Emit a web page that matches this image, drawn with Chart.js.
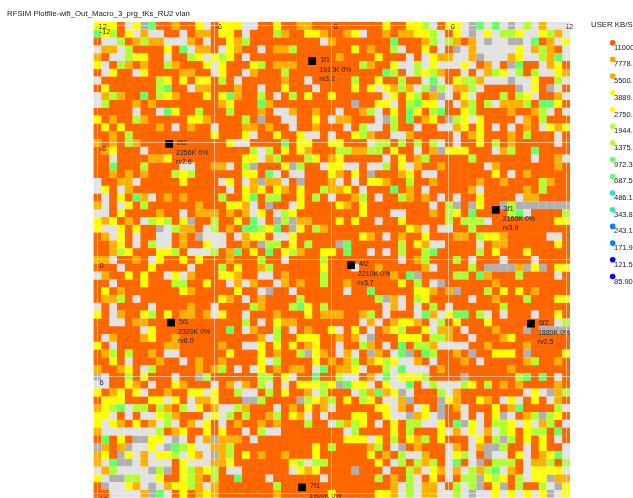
<!DOCTYPE html>
<html>
<head>
<meta charset="utf-8">
<style>
  html, body { margin: 0; padding: 0; background: #fff; }
  canvas { display: block; filter: blur(0.45px); }
</style>
<script src="https://cdn.jsdelivr.net/npm/chart.js@4"></script>
</head>
<body>
<canvas id="plot" width="633" height="498"></canvas>
<script>
const titleText = 'RFSIM Plotfile-wifi_Out_Macro_3_prg_tKs_RU2 vlan'
const legendTitle = 'USER KB/S'
const legendValues = ['11000.0','7778.2','5500.0','3889.1','2750.0','1944.5','1375.0','972.30','687.50','486.10','343.80','243.10','171.90','121.50','85.90']
const legendColors = ['#ff5a00','#ffa500','#ffa500','#ffff00','#ffff00','#b0ff33','#b0ff33','#66ff66','#66ff66','#33e0d0','#33e0d0','#0a80ff','#0a80ff','#0000ff','#0000ff']

const tickValues = [-12, -6, 0, 6, 12]
const cellStep = 0.4
const firstCell = -12

// cell classes seen on the map, O is the background class so it is not listed in the rows
const cellClasses = ['O', 'A', 'Y', 'L', 'G', 'W', 'S']
const classValues = [11000, 5500, 2750, 1375, 687.5, 0, -1]
const classColors = ['#ff6600', '#ffb000', '#ffff00', '#b0ff33', '#66ff66', '#e2e2e2', '#b0b0b0']

// one string per row from the top, "col" or "from-to" followed by the class
const cellRows = [
  '0-2Y 4W 5Y 6S 7G 10A 13Y 14W 16-18Y 19-20W 23Y 26-27A 37Y 40-41Y 42L 43W 45-46Y 47W 48S 49G 50W 51G 52W 53S 54W 55L 56W 57A 58-60W',
  '0G 1Y 2L 4Y 5W 6A 7-8W 11W 13-14A 16-17Y 19W 23L 24A 27-28Y 29A 32A 33Y 34W 37A 39-40A 41-42Y 43L 44W 46Y 47W 48S 49W 50Y 51W 52-53L 54Y 55-56W 57Y 58L 59A 60W',
  '1-2W 3L 5A 6L 7-8A 9-11W 12A 14W 17Y 18A 19L 29W 30A 38G 42A 43L 44W 45L 46A 48A 49W 50S 51-52W 53-54S 55W 56G 58A 59W 60Y',
  '0W 1-2A 3W 4L 9Y 11G 12W 13-14A 16W 17Y 18A 21W 23-24A 25L 33Y 35A 38L 39W 42Y 44W 46S 47W 48A 49-53W 54Y 55W 56A 57L 58A 60W',
  '0A 2-3W 4L 5-6Y 9W 12L 13Y 14W 15Y 16L 17Y 19W 31A 36Y 40W 42W 43Y 44-45A 46-47W 48A 49S 50-52W 53A 54Y 55-56W 57L 58A 59G 60W',
  '0Y 1W 3L 4A 6A 9L 10A 14Y 15W 16Y 20Y 21L 23-25A 34L 35A 38Y 39-40W 41L 42W 43Y 44-46W 47Y 48W 50A 51W 53S 54G 57W 58A 59Y',
  '1W 2Y 5W 6Y 11-12A 15W 16Y 19W 20A 24L 37G 38L 40W 41L 42Y 43L 44A 47W 49W 50A 51L 52Y 53W 54L 56L 57-58W 59Y 60A',
  '0W 8L 9Y 11Y 13-14Y 16L 18W 24A 27W 33L 36Y 39L 42W 43G 44W 46Y 47-48L 49A 50-52W 53S 54-55W 56Y 59L 60W',
  '1Y 8L 9G 12W 13-14A 18A 21W 24Y 28W 33Y 35Y 36W 37Y 38A 39L 40A 41W 42L 43S 44L 45W 46-47A 48L 49W 54S 55W 56Y 58S 59W',
  '0W 1A 2L 3A 6G 8L 9Y 10A 14Y 16Y 17G 18A 21L 23W 25L 27Y 30Y 37W 38Y 40Y 41L 43A 44S 45W 47Y 48W 52L 54L 55Y 56W 59A 60W',
  '0W 1L 5A 7A 16A 17Y 21G 22A 33S 36-37Y 38W 40L 41G 42-43Y 44W 46W 47A 48L 50L 51W 52-54A 55L 57-58G 59Y',
  '5W 8W 9G 10Y 13L 17L 21A 23-24W 25A 28A 31W 34A 35L 36W 38Y 40G 41Y 43L 44G 47Y 48L 53A 56A 57L 58W 60W',
  '0Y 2A 5L 6A 12-13Y 14A 19L 21S 24-25W 28Y 30W 31-32A 36W 37S 38L 40G 42A 43Y 45S 46L 47Y 48W 49Y 54W 55A 57L',
  '1Y 3Y 8A 10W 12A 15W 19-20A 22A 25W 28A 32W 34L 35-36W 38L 41W 44-45W 46A 47Y 49Y 51W 53W 55A 57W 58Y 59A 60Y',
  '2A 4L 15Y 19Y 20W 23Y 26Y 27-28W 30W 33Y 34L 35A 38-39W 40A 46W 48A 49Y 53A 55L 59W',
  '0A 2A 4L 5A 17Y 18-19W 24G 26-27Y 30-31Y 35W 36-37L 39L 41L 43L 44W 46W 49Y 51L 53A 59W',
  '1A 2Y 6W 20L 21W 22L 24Y 26Y 27A 31-32L 33-34A 35-36L 38Y 41W 43A 44S 45-47Y 51W 52A 53L 56G',
  '2W 7-8A 9Y 19-20Y 21W 22A 23L 27L 28Y 30A 31Y 37W 39Y 41A 42L 48L 56W 59A 60W',
  '2G 6L 11-12W 15-16A 17W 19L 20S 24Y 25S 26L 29W 30-31Y 32-33W 35-36W 37L 39Y 40W 41A 44A 50W 51A 59A',
  '2A 4A 6A 10L 11Y 12L 19-20Y 22G 23W 25-26W 30Y 31A 33Y 35S 39A 40Y 42-43W 51Y 53W 55A',
  '0W 3-4A 5W 11Y 16W 17Y 19W 20A 21S 22-23A 24W 26S 30A 31W 33W 35-36Y 37A 40L 43A 49A 52A 57L 58A',
  '0W 1Y 3W 4A 17W 19Y 20A 21Y 23Y 24A 26Y 29L 30-31A 32Y 34W 38G 40A 42W 48A 49W 55A 57L',
  '1W 3Y 5G 6A 7W 9A 11A 16L 19Y 20G 22-23L 26Y 28L 30W 33A 34L 36W 39L 40A 42A 44W 46W 49Y 54W 55-56A',
  '0A 1W 3W 4Y 6L 13A 17-18Y 19A 20W 22S 25W 26Y 31Y 32A 34Y 43W 45L 46S 48S 49Y 52S 53L 54-60S',
  '0-1W 3Y 8A 11W 13-15A 17A 19A 20W 21Y 23W 24L 25Y 34Y 38-39W 43A 45L 46Y 48G 53L 54G 55W 60L',
  '0Y 1A 2Y 4A 6W 7L 8Y 9L 11Y 12S 15L 18Y 20G 21W 23S 24L 25S 26-27A 31Y 33Y 36W 39Y 45L 47-49L 50W 59-60Y',
  '0Y 1-2W 3Y 5Y 8S 9W 10L 11-12A 14W 15L 17A 19-20G 21L 22Y 23G 25S 26Y 28L 29A 40Y 41A 42W 44-45W 48L',
  '1A 2W 3Y 5W 8-9W 11A 13S 14-16W 18W 19A 20-21Y 23-24W 25Y 34Y 35A 37W 39A 42Y 46-47A 49L 50-51Y 52A 58-59W',
  '2A 3Y 5W 7L 8-9W 11A 14Y 15-16W 19A 21S 22-23L 25Y 27L 31S 32G 39L 41Y 42A 43-44W 49W 51-52A 59Y',
  '2A 3L 4Y 8-9Y 10L 12-14W 15L 17A 18G 20Y 22G 24Y 25L 26A 29-30Y 32G 35W 37W 39L 42L 43G 49L 51Y 55Y',
  '0-1A 2W 5A 7W 8Y 11Y 13Y 17A 21L 24W 29L 39W 41A 42L 46L 48W 52W 56W',
  '3W 7Y 12W 16L 18Y 21A 22L 29Y 33W 36A 42A 43W 48L 50-53S 54A 55S 56Y 57S 59-60Y',
  '0W 1A 4Y 6Y 9W 10Y 11W 12A 16-17Y 18A 21-22W 24A 29L 38A 40G 41S 46-47L 49G 50A 54L 59W',
  '2W 6Y 10-11L 14Y 17W 18A 19W 20A 23W 24A 26A 29L 32A 39Y 41L 43W 44S 51A',
  '1Y 3A 11Y 12A 18Y 21W 22S 25W 32W 35G 41-42Y 43A 45A 46S 50L 52Y 54Y 56A',
  '1-2A 3L 5W 16Y 17A 19W 21A 26L 36L 37S 38A 39W 41L 42Y 48W 51A 55L 59-60Y',
  '0W 2W 7W 12A 15W 20L 21A 25L 26G 27Y 29L 37W 38A 39W 41W 43L 45W 52L',
  '0Y 2W 3A 6Y 7L 9Y 11-12A 14A 15W 16Y 19W 23A 27Y 29-31A 34A 35L 37W 41W 42G 43A 44W 45Y 46-47G 49L 50W 52W 56W 59Y',
  '2-3W 5-6A 19L 21W 23Y 24-25A 34W 35A 36W 38A 39-40Y 41A 43W 44L 46Y 50Y 59W 60L',
  '6W 7Y 17G 19W 20A 23L 25W 27A 30Y 31W 33Y 35W 37A 38Y 39L 42Y 43W 44-45A 47W 51A 55S 57-60S',
  '1W 2A 6A 7Y 10A 21A 22W 23L 26-28Y 31A 33A 34W 35S 39-41Y 43-44L 45A 48W 52A 53Y',
  '0Y 2W 9-10A 16A 19-20W 21Y 23Y 25Y 27A 28Y 31W 34L 35A 37W 39G 41-42L 43A 44-47W 50A 55A',
  '1A 2L 4L 7A 9-10W 17Y 21Y 23A 26L 27S 28Y 29A 31W 32A 33W 35S 36A 38W 39G 40S 42G 43L 46A 48S 51-53Y 55S 60Y',
  '2Y 4W 8A 11W 13A 16A 21Y 22W 23L 28Y 30A 32A 33L 35A 36Y 37L 38Y 39-40W 41A 43W 47A 49W 55A 56L 59A',
  '0A 3A 4Y 6W 7L 13A 15A 16L 18W 20W 21Y 23A 25-26A 28W 29G 31-32A 33Y 34W 37L 38W 39G 40-42W 44A 53A',
  '0S 1W 4L 6Y 10W 13S 14L 21-22L 24Y 25W 28G 31L 32-33W 35A 36W 37G 38W 39-41Y 42L 47S 54L 55G 57G 59W',
  '0-1W 4Y 5A 7W 10Y 11A 15W 17A 18W 19A 21L 22W 24W 26-28Y 29L 30Y 31S 32G 33-34Y 35W 37Y 38-39W 40G 42W 43L 44-46W 47L 48Y 50L 52A 54A 59A',
  '0Y 2A 3Y 5Y 6W 9A 12-13Y 14W 15Y 18L 19-20W 22L 24Y 27A 28W 29L 33W 34L 35A 36G 37A 38Y 39S 40W 44L 45W 46A 55W 56Y 57W 58S 59A 60L',
  '1-3Y 7-8Y 9W 10Y 12W 13-14A 15Y 19-20S 21L 26S 27L 28Y 29A 30L 32Y 34L 35Y 37-38W 39A 40S 44S 45Y 46A 49Y 50A 52W 53Y 54W 56Y 58W 59A',
  '0A 1Y 2L 3G 4W 5-6L 8L 9A 11L 12W 13Y 15A 16-17W 18L 19A 23W 25A 27Y 29A 30W 36-37Y 38W 39A 41W 42Y 44S 46A 47W 51Y 53A 54G 59L 60W',
  '0-1Y 2W 4W 6-7W 8Y 9L 10A 14W 15Y 16W 17L 19L 22A 23L 25Y 26A 27W 29W 33-34Y 37Y 38-39W 40S 41A 42Y 43W 44S 47W 49W 51Y 52S 53W 55A 56L 57S 58L 59Y',
  '0Y 1W 2Y 3A 5Y 7A 8W 9L 10W 12A 13W 14Y 16W 18A 21A 23A 27L 30W 31L 32A 33L 34Y 36W 38Y 40-41L 42-43W 44Y 46G 47S 48Y 49W 51-52L 53Y 54W 55Y 56W 57A 58L 60W',
  '0A 1-7W 8L 10A 11Y 14Y 16Y 19W 21L 22-23W 32W 33L 38Y 40L 44Y 45W 46A 47W 48Y 49W 50A 51W 52L 53Y 55Y 56-57L 59G',
  '1G 3Y 5-6S 7-8Y 9W 10S 11W 13W 14A 15S 16-18A 20W 32-34Y 35W 36Y 38L 40Y 41A 42L 44Y 48W 49Y 51L 52S 53L 55Y 57Y 59W',
  '0S 1A 3A 4S 5-6W 7Y 8W 9S 10G 11L 12Y 13-14W 15-16A 17L 28Y 30L 35A 36L 38W 39S 41A 45W 46A 48W 49A 50-51S 52L 55W 57Y 60W',
  '0A 1Y 3S 4Y 5W 6A 7W 8-9Y 10L 11W 12Y 13A 14W 15S 16A 17L 19Y 21A 24A 28Y 35Y 37A 39L 40-41W 42A 45W 46Y 47L 48W 50S 51-52W 54Y 55W 57A 58Y 59G 60W',
  '0A 1W 2G 3-4S 5W 6A 7-9W 11Y 12-14W 15-16A 17Y 25Y 26L 27W 28L 29L 36Y 38W 39L 41L 42A 43L 45W 46G 48W 49S 51-53L 55W 56-57A 58L 60L',
  '0W 1A 2L 3-6W 7S 8L 9S 11Y 12L 13A 14Y 15L 17-18W 25W 26Y 27A 28Y 33S 37W 40L 41A 42W 43Y 44A 45W 46A 47W 48L 49A 50L 51G 52W 53A 55W 56-59Y 60W',
  '0Y 1W 2-3S 4-5L 6-7W 8Y 11Y 12L 13A 15L 18G 22W 29W 36L 38A 40L 41W 43Y 45W 47-48L 49S 50Y 51L 52Y 54L 55W 56-57Y 58S 59-60A',
  '1S 2-3W 4Y 5A 6W 7S 8W 9A 10-11Y 12L 13A 14W 15A 23L 38A 39W 40L 41W 42-43A 44W 46L 47W 48L 49S 51Y 52S 54L 57L 58W 59S 60Y',
  '2-5W 6A 7S 8G 9W 11Y 13A 14Y 15A 23A 30Y 36-37Y 38A 39W 40L 41W 42-43A 44-45W 46L 47W 48S 49-50W 51Y 52W 53Y 54W 55Y 56W 57Y 58S 59W 60Y'
]

// access points
const siteX = [-1.0, -8.33, 8.4, 0.99, -8.23, 10.2, -1.52]
const siteY = [-10.2, -5.95, -2.57, 0.27, 3.22, 3.27, 11.67]
const siteNames = ['1f1', '2f2', '3f1', '4f2', '5f1', '6f2', '7f1']
const siteRates = ['1910K 0%', '2256K 0%', '2160K 0%', '2210K 0%', '2320K 0%', '1880K 0%', '1900K 0%']
const siteRevs = ['rv3.2', 'rv2.6', 'rv3.9', 'rv3.7', 'rv6.0', 'rv2.5', '']

// rows -> one list of points per class
const columnCount = 61
const classPoints = cellClasses.map(() => [])
cellRows.forEach((row, r) => {
  const grid = new Array(columnCount).fill('O')
  row.split(' ').forEach(tok => {
    const m = tok.match(/^(\d+)(?:-(\d+))?([A-Z])$/)
    const from = +m[1]
    const to = m[2] ? +m[2] : from
    for (let c = from; c <= to; c++) grid[c] = m[3]
  })
  grid.forEach((cls, c) => {
    classPoints[cellClasses.indexOf(cls)].push({
      x: firstCell + c * cellStep,
      y: firstCell + r * cellStep,
      v: classValues[cellClasses.indexOf(cls)]
    })
  })
})

// background class goes down first, higher order is drawn earlier
const datasets = cellClasses.map((cls, i) => ({
  label: cls,
  data: classPoints[i],
  pointStyle: 'rect',
  pointRadius: i === 0 ? 5.9 : 5.55,
  pointHoverRadius: 5.55,
  pointBorderWidth: 0,
  backgroundColor: classColors[i],
  order: i === 0 ? 3 : 2
}))
datasets.push({
  label: 'sites',
  data: siteX.map((x, i) => ({ x: x, y: siteY[i] })),
  pointStyle: 'rect',
  pointRadius: 5.5,
  pointBorderWidth: 0,
  backgroundColor: '#000',
  order: 1
})

// text around the map and the colour key
const mapText = {
  id: 'mapText',
  afterDatasetsDraw(chart) {
    const ctx = chart.ctx
    const xs = chart.scales.x
    const ys = chart.scales.y
    ctx.save()
    ctx.font = '7.8px "Liberation Sans"'
    ctx.textBaseline = 'middle'
    ctx.textAlign = 'left'
    ctx.fillStyle = '#222'
    ctx.fillText(titleText, 7, 14)
    ctx.fillText(legendTitle, 591, 25)

    ctx.font = '7.5px "Liberation Sans"'
    tickValues.forEach(v => {
      ctx.textAlign = 'center'
      ctx.fillText(v, xs.getPixelForValue(v) + (v === 12 ? 3 : 4), 26.5)
    })
    ctx.textAlign = 'left'

    ctx.font = '7px "Liberation Sans"'
    siteNames.forEach((name, i) => {
      const px = xs.getPixelForValue(siteX[i])
      const py = ys.getPixelForValue(siteY[i])
      ctx.fillText(name, px + 8, py - 1)
      ctx.fillText(siteRates[i], px + 7, py + 9)
      ctx.fillText(siteRevs[i], px + 7, py + 18)
    })

    ctx.font = '7.5px "Liberation Sans"'
    legendValues.forEach((val, i) => {
      const y = 42.7 + i * 16.7
      ctx.beginPath()
      ctx.arc(612.7, y, 2.8, 0, Math.PI * 2)
      ctx.fillStyle = legendColors[i]
      ctx.fill()
      ctx.fillStyle = '#222'
      ctx.fillText(val, 614, y + 5)
    })
    ctx.restore()
  }
}

new Chart(document.getElementById('plot'), {
  type: 'scatter',
  data: { datasets: datasets },
  plugins: [mapText],
  options: {
    responsive: false,
    animation: false,
    events: [],
    layout: { autoPadding: false, padding: { left: 93.5, right: 63, top: 22, bottom: 0.2 } },
    plugins: { legend: { display: false }, tooltip: { enabled: false } },
    scales: {
      x: {
        type: 'linear',
        position: 'top',
        min: -12.2,
        max: 12.2,
        afterFit: s => { s.height = 0 },
        afterBuildTicks: s => { s.ticks = tickValues.map(v => ({ value: v })) },
        border: { display: false },
        grid: { color: 'rgba(255,240,225,0.6)', lineWidth: 1, drawTicks: false, z: 1 },
        ticks: { display: false }
      },
      y: {
        type: 'linear',
        reverse: true,
        min: -12.2,
        max: 12.2,
        afterFit: s => { s.width = 0; s.paddingTop = 0; s.paddingBottom = 0 },
        afterBuildTicks: s => { s.ticks = tickValues.map(v => ({ value: v })) },
        border: { display: false },
        grid: { color: 'rgba(255,240,225,0.6)', lineWidth: 1, drawTicks: false, z: 1 },
        ticks: {
          z: 2,
          mirror: true,
          color: '#222',
          font: { size: 7.5, family: 'Liberation Sans' },
          padding: 6,
          labelOffset: 6,
          callback: v => v
        }
      }
    }
  }
})
</script>
</body>
</html>
